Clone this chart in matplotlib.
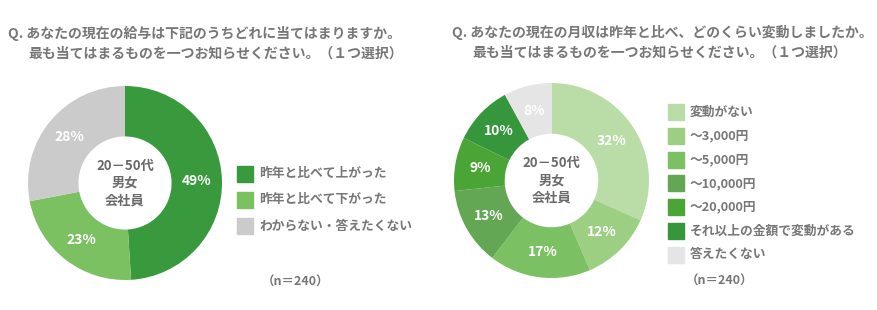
import matplotlib.pyplot as plt

plt.rcParams['font.family'] = ['Noto Sans CJK JP', 'DejaVu Sans']

W, H = 878, 310

# left chart: salary
q1_title = ['Q. あなたの現在の給与は下記のうちどれに当てはまりますか。',
            '最も当てはまるものを一つお知らせください。（１つ選択）']
q1_labels = ['昨年と比べて上がった', '昨年と比べて下がった', 'わからない・答えたくない']
q1_values = [49, 23, 28]
q1_colors = ['#389a3c', '#7bc162', '#cbcbcb']

# right chart: monthly income change
q2_title = ['Q. あなたの現在の月収は昨年と比べ、どのくらい変動しましたか。',
            '最も当てはまるものを一つお知らせください。（１つ選択）']
q2_labels = ['変動がない', '～3,000円', '～5,000円', '～10,000円', '～20,000円',
             'それ以上の金額で変動がある', '答えたくない']
q2_values = [32, 12, 17, 13, 9, 10, 8]
q2_colors = ['#badca6', '#9dcf83', '#7bc062', '#63a755', '#4aa536', '#36963b', '#e5e5e5']

center_text = '20－50代\n男女\n会社員'
n_text = '（n＝240）'

text_gray = '#777777'

fig = plt.figure(figsize=(W / 100, H / 100), dpi=100)


def px(x, y):
    return x / W, 1 - y / H


def donut(cx, cy, r, values, colors):
    half = 100
    ax = fig.add_axes([(cx - half) / W, (H - cy - half) / H, 2 * half / W, 2 * half / H])
    lim = half / r
    wedges, texts = ax.pie(values, colors=colors, startangle=90, counterclock=False,
                           radius=1, wedgeprops=dict(width=0.52, linewidth=0),
                           labels=[f'{v}%' for v in values], labeldistance=0.74,
                           textprops=dict(color='white', fontsize=10, fontweight='bold',
                                          ha='center', va='center'))
    ax.set_xlim(-lim, lim)
    ax.set_ylim(-lim, lim)
    ax.set_aspect('equal')
    ax.axis('off')
    ax.text(0, 0, center_text, ha='center', va='center', fontsize=9.5,
            fontweight='bold', color='#6a6a6a', linespacing=1.3)
    return ax


def legend(x, y0, step, labels, colors):
    for i, (lab, c) in enumerate(zip(labels, colors)):
        y = y0 + i * step
        fig.patches.append(plt.Rectangle(px(x, y + 8), 16 / W, 16 / H, color=c,
                                         transform=fig.transFigure, figure=fig))
        fig.text(*px(x + 22, y), lab, ha='left', va='center', fontsize=9.2,
                 color=text_gray, fontweight='bold')


donut(125, 183, 97, q1_values, q1_colors)
donut(551.5, 180.5, 97.5, q2_values, q2_colors)

# titles
fig.text(*px(8, 33), q1_title[0], ha='left', va='center', fontsize=10,
         color=text_gray, fontweight='bold')
fig.text(*px(28, 54), q1_title[1], ha='left', va='center', fontsize=10,
         color=text_gray, fontweight='bold')
fig.text(*px(452, 32), q2_title[0], ha='left', va='center', fontsize=10,
         color=text_gray, fontweight='bold')
fig.text(*px(472, 53), q2_title[1], ha='left', va='center', fontsize=10,
         color=text_gray, fontweight='bold')

legend(237, 174, 26, q1_labels, q1_colors)
legend(668, 112, 23.8, q2_labels, q2_colors)

fig.text(*px(262, 282), n_text, ha='left', va='center', fontsize=9,
         color=text_gray, fontweight='bold')
fig.text(*px(686, 281), n_text, ha='left', va='center', fontsize=9,
         color=text_gray, fontweight='bold')

fig.savefig('out.png', dpi=100)
